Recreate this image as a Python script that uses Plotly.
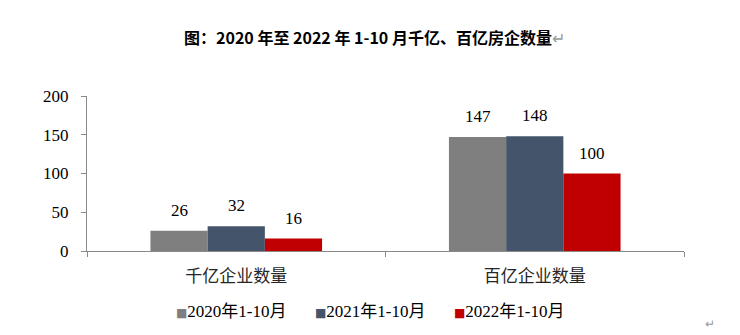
import plotly.graph_objects as go

categories = ["千亿企业数量", "百亿企业数量"]
series_names = ["2020年1-10月", "2021年1-10月", "2022年1-10月"]
values_2020 = [26, 147]
values_2021 = [32, 148]
values_2022 = [16, 100]
colors = ["#7F7F7F", "#44546A", "#C00000"]
y_ticks = [0, 50, 100, 150, 200]

serif = "Liberation Serif, Times New Roman, serif"
cjk = "Liberation Serif, Noto Sans CJK SC, serif"

W, H = 740, 335
L, R, T, B = 87, 56, 96, 84
plot_w = W - L - R
plot_h = H - T - B
bargap = 0.425
ymax = 200

def px_x(px):
    return (px - L) / plot_w

def px_y(py):
    return (H - B - py) / plot_h

all_vals = [values_2020, values_2021, values_2022]
fig = go.Figure()
for name, vals, col in zip(series_names, all_vals, colors):
    fig.add_trace(go.Bar(
        x=categories, y=vals, name=name, marker=dict(color=col, line=dict(width=0)),
        showlegend=False,
    ))

# data labels above bars
bar_w = plot_w / len(categories) * (1 - bargap) / len(series_names)
annotations = []
for i, vals in enumerate(all_vals):
    for cat, v in zip(categories, vals):
        annotations.append(dict(
            x=cat, y=v, xref="x", yref="y", text=str(v), showarrow=False,
            xshift=(i - 1) * bar_w, yshift=9, yanchor="bottom",
            font=dict(family=serif, size=17, color="#000000")))

# legend drawn as text
legend_left_px = [174, 313, 452]
for name, col, lx in zip(series_names, colors, legend_left_px):
    annotations.append(dict(
        x=px_x(lx), y=px_y(311), xref="paper", yref="paper", xanchor="left", yanchor="middle",
        showarrow=False,
        text=f"<span style='color:{col};font-size:12px;font-family:DejaVu Sans'>■</span>{name}",
        font=dict(family=cjk, size=17, color="#000000")))

annotations.append(dict(
    text="<b>图：2020 年至 2022 年 1-10 月千亿、百亿房企数量</b><span style='color:#999999;font-weight:normal'>↵</span>",
    x=px_x(374), y=px_y(37), xref="paper", yref="paper", yanchor="middle", showarrow=False,
    font=dict(family="Noto Sans CJK SC", size=16, color="#000000")))
annotations.append(dict(text="↵", x=px_x(710), y=px_y(334), xref="paper", yref="paper",
                        xanchor="center", yanchor="bottom",
                        showarrow=False, font=dict(size=12, color="#999999")))

fig.update_layout(
    width=W, height=H,
    margin=dict(l=L, r=R, t=T, b=B),
    paper_bgcolor="white", plot_bgcolor="white",
    barmode="group", bargap=bargap, bargroupgap=0,
    showlegend=False,
    xaxis=dict(showline=True, linecolor="#898989", linewidth=1, ticks="outside",
               tickson="boundaries", ticklen=5, tickcolor="#898989",
               ticklabelstandoff=10,
               tickfont=dict(family="Noto Sans CJK SC", size=17, color="#262626")),
    yaxis=dict(range=[0, ymax], tickvals=y_ticks, showline=True, linecolor="#898989",
               linewidth=1, ticks="outside", ticklen=5, tickcolor="#898989",
               showgrid=False, zeroline=False, ticklabelstandoff=9,
               tickfont=dict(family=serif, size=17, color="#000000")),
    annotations=annotations,
)

fig.write_html("out.html")
